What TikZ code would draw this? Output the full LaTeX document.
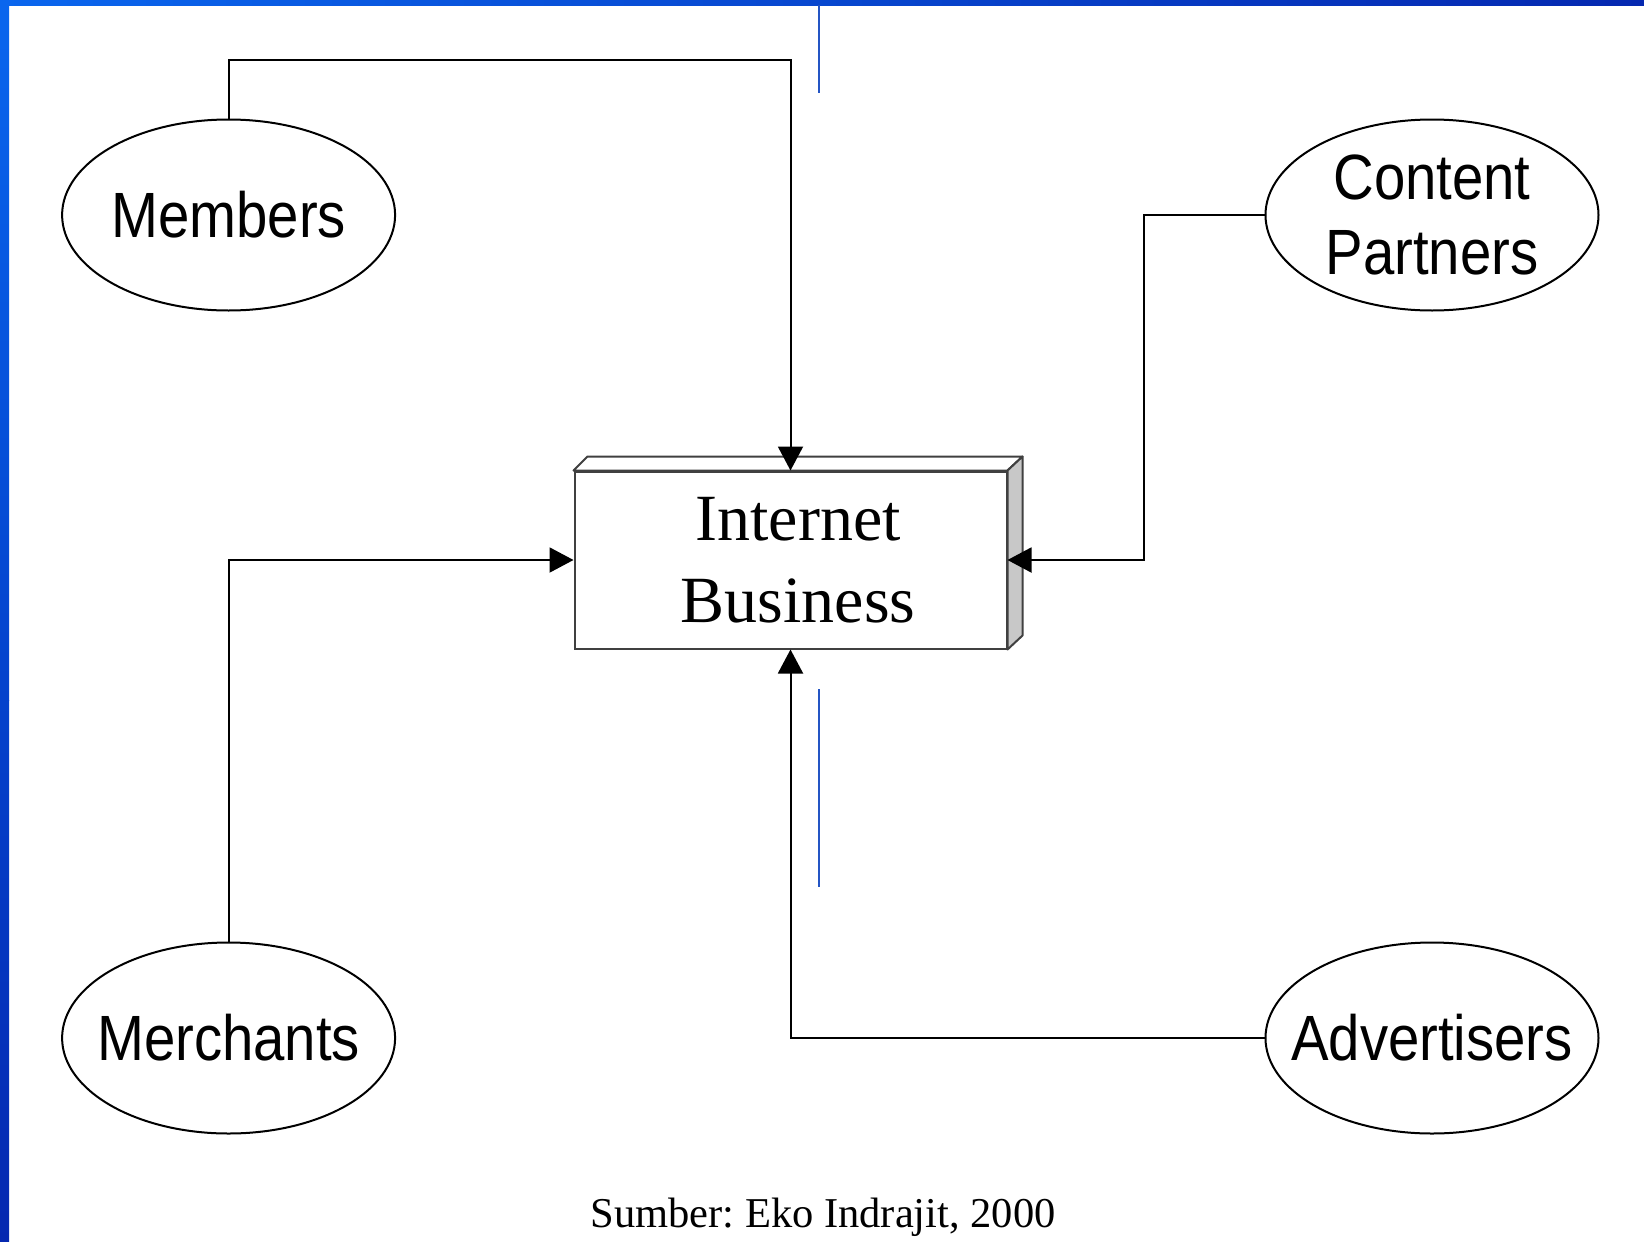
\documentclass[tikz,border=0pt]{standalone}
\usepackage{fontspec}
\setmainfont{Liberation Serif}
\newfontfamily\arialn[FakeStretch=0.88]{Liberation Sans}
\usetikzlibrary{shapes.geometric,arrows.meta,calc}
\definecolor{bluetop}{HTML}{0A66EE}
\definecolor{bluedark}{HTML}{0528B0}
\definecolor{bluemid}{HTML}{0442CC}
\definecolor{thinblue}{HTML}{2455C4}
\definecolor{sidegray}{HTML}{C8C8C8}
\newcommand{\zw}[1]{\makebox[0pt]{#1}}
\tikzset{
  actor/.style={ellipse, draw, line width=2pt, minimum width=333pt, minimum height=191pt,
    inner sep=0pt, align=center, font=\arialn\fontsize{64}{75}\selectfont},
  conn/.style={line width=2pt, -{Triangle[length=24pt,width=25pt]}},
  bizbox/.style={rectangle, draw=black!75, line width=2pt, minimum width=432pt, minimum height=177pt,
    inner sep=0pt, align=center, font=\fontsize{66}{82}\selectfont},
  face/.style={draw=black!75, line width=2pt, line join=round},
}
\begin{document}
\frenchspacing
\begin{tikzpicture}[x=1pt,y=-1pt]
\useasboundingbox (0,0) rectangle (1644,1242);
\fill[white] (0,0) rectangle (1644,1242);
% blue frame
\shade[left color=bluetop, right color=bluedark] (0,0) rectangle (1644,5);
\shade[top color=bluetop, bottom color=bluemid] (0,0) rectangle (9,700);
\shade[top color=bluemid, bottom color=bluedark] (0,700) rectangle (9,1242);
% thin blue lines
\coordinate (t1) at (819,5);
\coordinate (t2) at (819,93);
\coordinate (t3) at (819,689);
\coordinate (t4) at (819,887);
\draw[thinblue, line width=1.5pt] (t1) -- (t2);
\draw[thinblue, line width=1.5pt] (t3) -- (t4);
% central box
\node[bizbox] (box) at (790.5,560) {\hspace*{15pt}Internet\\\hspace*{15pt}Business};
\draw[face, fill=white] (box.north west) -- ([shift={(14pt,14pt)}]box.north west)
  -- ([shift={(15pt,14pt)}]box.north east) -- (box.north east) -- cycle;
\draw[face, fill=sidegray] (box.north east) -- ([shift={(15pt,14pt)}]box.north east)
  -- ([shift={(15pt,14pt)}]box.south east) -- (box.south east) -- cycle;
% actors
\node[actor] (mem) at (228.6,215) {\zw{Members}};
\node[actor] (cp) at (1432,215) {\zw{Content}\\\zw{Partners}};
\node[actor] (mer) at (228.6,1038) {\zw{Merchants}};
\node[actor] (adv) at (1432,1038) {\zw{Advertisers}};
% connectors
\coordinate (top) at (0,60);
\coordinate (cpx) at (1144,0);
\draw[conn] (mem.north) -- (mem.north |- top) -| (box.north);
\draw[conn] (mer.north) |- (box.west);
\draw[conn] (cp.west) -- (cp.west -| cpx) |- (box.east);
\draw[conn] (adv.west) -| (box.south);
% caption
\node[font=\fontsize{42.5}{50}\selectfont, anchor=base] (cap) at (823,1227) {Sumber: Eko Indrajit, 2000};
\end{tikzpicture}
\end{document}
